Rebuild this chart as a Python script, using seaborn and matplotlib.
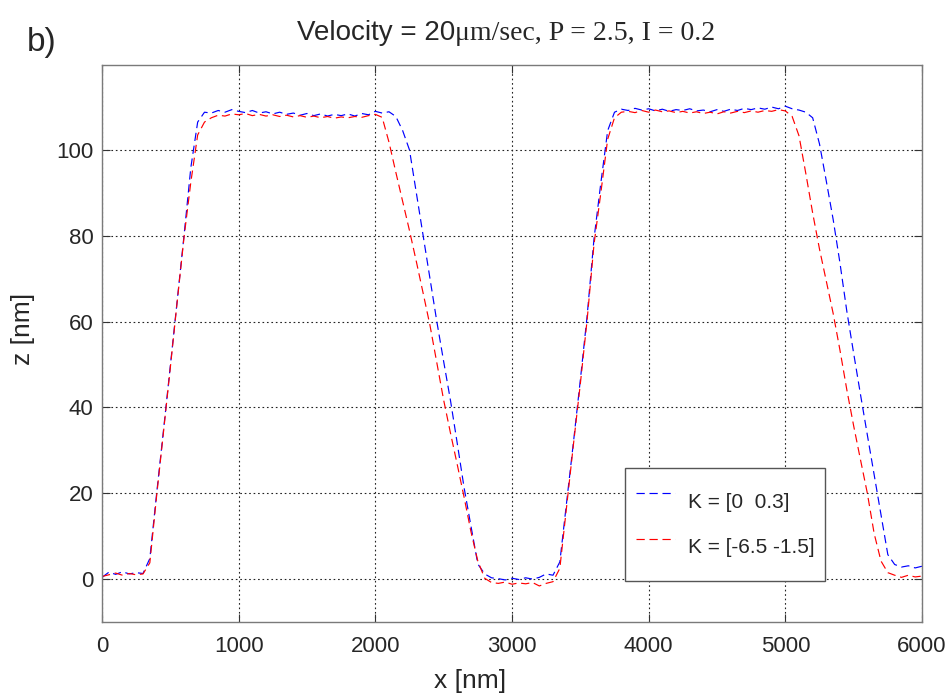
import numpy as np
import pandas as pd
import matplotlib
matplotlib.use("Agg")
import matplotlib.pyplot as plt
import seaborn as sns

# ---- data (x in nm, z in nm) ----
x_nm = list(range(0, 6001, 50))

z_blue = [
    0.4, 1.6, 1.1, 1.7, 1.2, 1.5, 1.3, 4.8, 20.0, 34.7,
    49.7, 64.8, 80.0, 95.9, 106.5, 108.8, 108.6, 109.2, 108.8, 109.4,
    109.0, 108.7, 109.2, 108.6, 108.9, 108.4, 108.8, 108.3, 108.6, 108.1,
    108.5, 108.0, 108.4, 107.9, 108.3, 108.0, 108.4, 107.9, 108.5, 108.2,
    109.0, 108.6, 108.9, 107.8, 104.5, 100.0, 90.0, 80.0, 70.0, 60.0,
    50.7, 41.6, 31.5, 21.2, 12.3, 3.5, 1.2, 0.3, 0.1, -0.2,
    0.2, -0.1, 0.3, 0.0, 0.4, 1.2, 0.9, 4.0, 18.0, 32.0,
    46.4, 61.4, 79.3, 92.3, 104.5, 108.8, 109.5, 109.2, 109.7, 109.3,
    109.6, 109.1, 109.5, 109.0, 109.4, 109.2, 109.6, 109.1, 109.3, 108.9,
    109.4, 109.0, 109.5, 109.2, 109.7, 109.4, 109.8, 109.5, 110.0, 109.6,
    110.2, 109.6, 109.3, 108.8, 107.5, 101.4, 92.7, 83.8, 73.6, 62.4,
    52.6, 43.0, 33.6, 24.3, 15.0, 5.7, 3.4, 2.8, 3.1, 2.6,
    3.0,
]

z_red = [
    0.6, 1.0, 1.4, 0.9, 1.3, 1.0, 1.2, 3.8, 19.5, 34.3,
    49.3, 64.6, 79.6, 92.5, 103.5, 106.5, 107.5, 108.1, 107.9, 108.4,
    108.2, 108.5, 108.0, 108.3, 107.9, 108.2, 107.8, 108.1, 107.7, 108.0,
    107.6, 107.9, 107.5, 107.8, 107.4, 107.7, 107.5, 107.8, 107.6, 108.0,
    108.3, 107.6, 101.8, 94.8, 88.0, 81.2, 74.0, 66.6, 59.1, 50.4,
    41.7, 34.0, 26.6, 19.0, 11.0, 4.2, 0.2, -0.8, -1.0, -0.7,
    -1.2, -0.9, -1.1, -0.8, -1.6, -1.0, -0.6, 2.5, 17.0, 31.5,
    45.5, 60.5, 78.0, 90.0, 102.5, 107.5, 108.8, 109.0, 108.7, 109.2,
    108.8, 109.3, 108.9, 109.1, 108.7, 109.0, 108.6, 108.9, 108.5, 108.8,
    108.4, 108.9, 108.6, 109.0, 108.7, 109.1, 108.8, 109.2, 109.0, 109.4,
    109.1, 107.8, 103.3, 94.5, 85.3, 76.9, 69.4, 61.9, 53.3, 44.1,
    35.7, 27.8, 20.0, 10.6, 4.2, 1.5, 0.9, 0.4, 0.9, 0.5,
    0.7,
]

series_labels = ["K = [0  0.3]", "K = [-6.5 -1.5]"]
series_colors = ["#0000ff", "#ff0000"]
x_ticks = [0, 1000, 2000, 3000, 4000, 5000, 6000]
y_ticks = [0, 20, 40, 60, 80, 100]

df = pd.concat([
    pd.DataFrame({"x": x_nm, "z": z_blue, "K": series_labels[0]}),
    pd.DataFrame({"x": x_nm, "z": z_red, "K": series_labels[1]}),
], ignore_index=True)

# ---- style ----
sns.set_theme(style="ticks")
plt.rcParams["font.family"] = ["Liberation Sans", "DejaVu Sans"]
plt.rcParams["xtick.direction"] = "in"
plt.rcParams["ytick.direction"] = "in"

fig = plt.figure(figsize=(9.51, 6.96), dpi=100)
ax = fig.add_axes([102 / 951, 1 - 622 / 696, 820 / 951, 557 / 696])

sns.lineplot(
    data=df, x="x", y="z", hue="K", style="K",
    palette=dict(zip(series_labels, series_colors)),
    dashes={series_labels[0]: (7, 4), series_labels[1]: (7, 4)},
    estimator=None, sort=False, linewidth=0.85, ax=ax,
)

ax.set_xlim(0, 6000)
ax.set_ylim(-10, 119.8)
ax.set_xticks(x_ticks)
ax.set_yticks(y_ticks)
ax.tick_params(labelsize=16, length=6, width=0.8, color="#333333",
               top=True, right=True)
ax.tick_params(axis="x", pad=10)
ax.tick_params(axis="y", pad=6)
ax.grid(True, linestyle=(0, (1.5, 2.5)), color="#222222", linewidth=0.8)
for s in ax.spines.values():
    s.set_color("#7a7a7a")
    s.set_linewidth(1.0)

ax.set_xlabel("x [nm]", fontsize=19)
ax.set_ylabel("z [nm]", fontsize=19)
ax.xaxis.set_label_coords((470 - 102) / 820, -0.085)
ax.yaxis.set_label_coords(-0.082, 0.526)

leg = ax.legend(
    loc="upper left", bbox_to_anchor=(0.638, 0.276), fontsize=15,
    frameon=True, fancybox=False, edgecolor="#555555", framealpha=1,
    handlelength=1.9, handleheight=3.0, borderpad=0.5, labelspacing=0.0,
    handletextpad=0.6, borderaxespad=0,
)
leg.get_frame().set_linewidth(1.0)
leg.set_title(None)

# title: sans part + serif part
fig.text(455 / 951, 1 - 40 / 696, "Velocity = 20", ha="right", va="baseline",
         fontsize=20, family=["Liberation Sans", "DejaVu Sans"])
fig.text(455 / 951, 1 - 40 / 696, "\u03bcm/sec, P = 2.5, I = 0.2", ha="left",
         va="baseline", fontsize=20, family=["Liberation Serif", "DejaVu Serif"])
fig.text(27 / 951, 1 - 43 / 696, "b)", ha="left", va="center", fontsize=24)

fig.savefig("out.png", dpi=100)
